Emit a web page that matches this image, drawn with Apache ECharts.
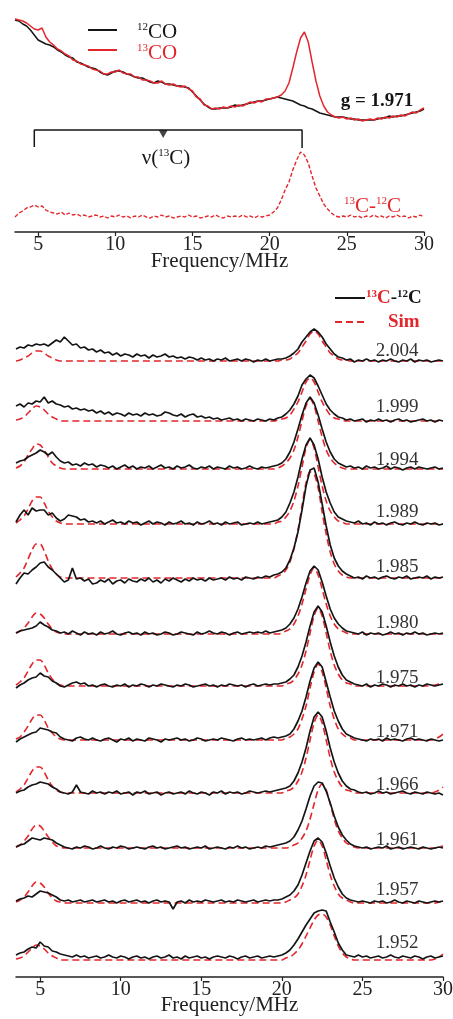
<!DOCTYPE html>
<html>
<head>
<meta charset="utf-8">
<script src="https://cdn.jsdelivr.net/npm/echarts@6/dist/echarts.min.js"></script>
<style>
html,body{margin:0;padding:0;background:#fff;}
#main{width:453px;height:1019px;}
</style>
</head>
<body>
<div id="main"></div>
<script>
// frequency grid (MHz), shared by every trace
var freq = [
  3.5,3.75,4,4.25,4.5,4.75,5,5.25,5.5,5.75,
  6,6.25,6.5,6.75,7,7.25,7.5,7.75,8,8.25,
  8.5,8.75,9,9.25,9.5,9.75,10,10.25,10.5,10.75,
  11,11.25,11.5,11.75,12,12.25,12.5,12.75,13,13.25,
  13.5,13.75,14,14.25,14.5,14.75,15,15.25,15.5,15.75,
  16,16.25,16.5,16.75,17,17.25,17.5,17.75,18,18.25,
  18.5,18.75,19,19.25,19.5,19.75,20,20.25,20.5,20.75,
  21,21.25,21.5,21.75,22,22.25,22.5,22.75,23,23.25,
  23.5,23.75,24,24.25,24.5,24.75,25,25.25,25.5,25.75,
  26,26.25,26.5,26.75,27,27.25,27.5,27.75,28,28.25,
  28.5,28.75,29,29.25,29.5,29.75,30
];
var ticks = [5, 10, 15, 20, 25, 30];

// ---- top panel (g = 1.971) ----
var co12 = [
  212,211,208,206,202,197,192,190,188,187,
  185,182,180,177,175,174,170,169,167,165,
  164,163,160,158,157,159,161,161,160,158,
  157,155,154,154,152,150,149,151,150,148,
  148,147,146,146,145,144,140,136,132,128,
  125,123,123,124,124,124,125,127,126,127,
  128,129,130,131,131,132,133,134,135,134,
  133,132,131,129,127,126,124,123,121,119,
  118,117,116,115,115,115,114,113,113,112,
  112,112,112,112,113,114,114,116,115,116,
  116,117,118,119,120,121,123
];
var co13 = [
  213,212,211,209,206,203,202,204,195,190,
  187,183,181,178,176,172,171,168,167,166,
  163,162,161,158,158,160,160,162,159,158,
  158,155,155,152,152,151,149,149,151,148,
  147,148,146,145,146,143,141,135,133,127,
  126,123,124,123,125,124,126,125,127,126,
  128,130,129,131,130,133,133,134,135,137,
  141,149,164,180,194,200,190,170,151,136,
  126,120,117,115,114,115,113,114,112,113,
  111,112,113,112,114,113,115,114,116,115,
  117,116,118,120,119,122,124
];
var diff13 = [
  15,19,21,24,25,27,25,26,22,20,
  19,18,20,17,19,17,18,16,17,15,
  16,17,15,16,14,16,15,17,15,16,
  14,16,15,17,15,14,16,15,17,15,
  16,14,15,16,15,17,15,16,14,15,
  16,15,17,15,14,16,15,16,15,17,
  15,16,14,16,15,16,17,20,24,32,
  42,50,62,72,80,77,69,56,44,36,
  28,23,19,16,15,16,15,17,15,16,
  14,16,15,17,15,16,14,16,15,17,
  15,16,14,16,15,17,15
];
var nuBracket = [4.75, 22.1];   // nu(13C) bracket ends, MHz
var nuMid = 13.1;

// ---- bottom panel: 13C-12C and Sim for each g ----
var gValues = ['2.004','1.999','1.994','1.989','1.985','1.980','1.975','1.971','1.966','1.961','1.957','1.952'];

var exp2004 = [
  12,14,13,16,15,17,16,17,15,18, 21,19,24,20,16,17,13,14,11,12,
  9,11,8,9,6,8,5,7,6,4, 7,5,6,3,6,4,5,7,4,5,
  3,4,2,4,3,1,3,1,2,0, 2,1,3,0,1,2,0,2,1,-1,
  1,0,2,0,1,2,2,3,5,8, 12,19,24,29,32,29,24,17,12,7,
  4,3,1,2,-1,1,0,2,0,1, -1,1,0,2,0,-1,1,0,2,-1,
  1,0,1,-1,0,1,0
];
var sim2004 = [
  0,1,3,5,8,10,10,8,5,3, 1,0,0,0,0,0,0,0,0,0,
  0,0,0,0,0,0,0,0,0,0, 0,0,0,0,0,0,0,0,0,0,
  0,0,0,0,0,0,0,0,0,0, 0,0,0,0,0,0,0,0,0,0,
  0,0,0,0,0,0,1,1,2,5, 8,14,20,27,30,27,20,14,8,5,
  2,1,1,0,0,0,0,0,0,0, 0,0,0,0,0,0,0,0,0,0,
  0,0,0,0,0,0,0
];
var exp1999 = [
  15,17,14,18,17,20,19,24,18,20, 17,16,14,15,12,13,11,12,10,11,
  8,10,7,9,6,8,7,5,8,6, 7,5,8,6,7,5,6,9,8,6,
  5,7,4,6,7,4,5,3,4,2, 3,1,2,3,1,2,0,2,1,0,
  2,1,0,2,1,3,4,7,11,17, 25,36,42,46,43,35,26,17,11,7,
  4,3,1,2,0,1,2,-1,1,0, 2,0,1,-1,1,2,0,1,-1,0,
  1,2,0,1,-1,1,0
];
var sim1999 = [
  1,2,4,8,12,15,14,11,7,4, 2,0,0,0,0,0,0,0,0,0,
  0,0,0,0,0,0,0,0,0,0, 0,0,0,0,0,0,0,0,0,0,
  0,0,0,0,0,0,0,0,0,0, 0,0,0,0,0,0,0,0,0,0,
  0,0,0,0,0,1,2,3,6,12, 19,29,39,43,39,29,19,12,6,3,
  2,1,0,0,0,0,0,0,0,0, 0,0,0,0,0,0,0,0,0,0,
  0,0,0,0,0,0,0
];
var exp1994 = [
  6,8,9,12,14,16,19,17,14,17, 12,8,6,7,4,5,3,6,4,5,
  2,4,3,1,3,0,2,4,1,3, 0,2,1,3,0,2,4,1,2,0,
  3,1,2,4,1,0,2,1,3,0, 2,1,0,3,1,2,0,1,3,1,
  0,2,1,2,3,4,6,10,17,27, 40,54,66,72,66,54,40,27,17,10,
  6,4,2,3,1,2,0,3,1,2, 0,1,3,0,2,1,-1,1,2,0,
  2,1,0,1,2,0,1
];
var sim1994 = [
  1,3,7,14,20,25,24,19,12,6, 3,1,0,0,0,0,0,0,0,0,
  0,0,0,0,0,0,0,0,0,0, 0,0,0,0,0,0,0,0,0,0,
  0,0,0,0,0,0,0,0,0,0, 0,0,0,0,0,0,0,0,0,0,
  0,0,0,0,0,1,3,6,11,19, 32,48,63,70,63,48,32,19,11,6,
  3,1,0,0,0,0,0,0,0,0, 0,0,0,0,0,0,0,0,0,0,
  0,0,0,0,0,0,0
];
var exp1989 = [
  2,9,14,9,16,13,14,14,9,11, 6,3,5,9,8,7,4,5,2,3,
  1,3,0,2,4,1,2,0,3,1, 2,-1,1,3,0,2,1,-1,2,0,
  1,3,0,1,-1,2,0,1,3,0, 1,-1,2,0,1,2,-1,0,1,0,
  2,0,1,2,3,4,7,12,21,32, 47,65,79,86,79,65,47,32,21,12,
  7,5,3,2,1,3,0,1,-1,2, 0,1,-1,1,2,0,-1,1,0,2,
  0,-1,1,0,1,-1,0
];
var sim1989 = [
  1,4,8,15,23,27,27,21,13,7, 3,1,0,0,0,0,0,0,0,0,
  0,0,0,0,0,0,0,0,0,0, 0,0,0,0,0,0,0,0,0,0,
  0,0,0,0,0,0,0,0,0,0, 0,0,0,0,0,0,0,0,0,0,
  0,0,0,0,0,2,3,7,13,23, 38,57,76,84,76,57,38,23,13,7,
  3,2,0,0,0,0,0,0,0,0, 0,0,0,0,0,0,0,0,0,0,
  0,0,0,0,0,0,0
];
var exp1985 = [
  -6,0,5,4,8,11,15,16,11,8, 4,0,-4,-2,10,-1,0,-3,-1,-6,
  -5,-2,-4,-1,-6,-3,-2,-5,-1,-3, -4,-1,-3,0,-4,-2,-5,-1,-3,0,
  -2,-4,-1,-3,0,-2,-1,-3,0,-2, -1,0,-2,1,-1,0,-2,1,0,-1,
  1,0,2,1,3,4,6,10,18,30, 46,68,92,108,110,96,74,52,33,20,
  12,7,4,2,0,1,-1,2,0,1, -1,1,2,0,-1,1,0,2,-1,0,
  1,0,2,-1,1,0,1
];
var sim1985 = [
  1,5,10,19,28,34,34,27,17,9, 4,1,0,0,0,0,0,0,0,0,
  0,0,0,0,0,0,0,0,0,0, 0,0,0,0,0,0,0,0,0,0,
  0,0,0,0,0,0,0,0,0,0, 0,0,0,0,0,0,0,0,0,0,
  0,0,0,0,0,2,4,8,16,29, 48,72,95,106,104,90,66,44,26,14,
  7,3,1,0,0,0,0,0,0,0, 0,0,0,0,0,0,0,0,0,0,
  0,0,0,0,0,0,0
];
var exp1980 = [
  1,3,4,5,6,8,12,9,7,4, 3,1,2,0,3,1,-1,2,0,1,
  -1,2,0,1,3,0,-1,1,2,0, 1,-1,2,0,1,-1,0,2,1,-1,
  0,2,1,0,-1,2,0,1,3,1, 0,2,1,-1,1,2,0,1,2,1,
  2,1,3,1,2,3,4,6,10,16, 25,37,51,63,68,64,52,38,25,16,
  10,6,3,2,1,0,2,-1,1,0, 1,-1,0,2,0,1,-1,1,0,2,
  0,1,-1,0,1,0,1
];
var sim1980 = [
  1,3,6,11,17,21,20,16,10,5, 2,1,0,0,0,0,0,0,0,0,
  0,0,0,0,0,0,0,0,0,0, 0,0,0,0,0,0,0,0,0,0,
  0,0,0,0,0,0,0,0,0,0, 0,0,0,0,0,0,0,0,0,0,
  0,0,0,0,0,0,1,3,5,10, 18,30,45,59,66,59,45,30,18,10,
  5,3,1,0,0,0,0,0,0,0, 0,0,0,0,0,0,0,0,0,0,
  0,0,0,0,0,0,0
];
var exp1975 = [
  -2,1,3,6,8,9,13,10,9,5, 3,0,-1,1,3,4,2,3,0,1,
  -1,1,2,0,-1,1,0,2,-1,1, 0,2,1,-1,1,0,2,1,0,-1,
  1,0,2,1,-1,0,1,2,0,1, -1,1,0,2,1,0,1,-1,1,2,
  0,1,2,1,2,2,3,4,7,11, 19,30,44,60,74,80,74,60,44,30,
  19,11,6,4,2,1,0,2,-1,1, 0,2,1,-1,1,0,2,0,1,-1,
  1,0,2,1,0,1,2
];
var sim1975 = [
  1,4,8,15,22,26,26,21,13,7, 3,1,0,0,0,0,0,0,0,0,
  0,0,0,0,0,0,0,0,0,0, 0,0,0,0,0,0,0,0,0,0,
  0,0,0,0,0,0,0,0,0,0, 0,0,0,0,0,0,0,0,0,0,
  0,0,0,0,0,0,0,2,3,6, 12,21,35,53,70,78,70,53,35,21,
  12,6,3,2,0,0,0,0,0,0, 0,0,0,0,0,0,0,0,0,0,
  0,0,0,0,1,2,4
];
var exp1971 = [
  -2,1,3,5,7,8,12,11,10,8, 7,3,1,0,-1,2,3,1,0,2,
  0,-1,1,2,0,-2,1,0,2,-1, 1,0,-1,2,1,0,-2,1,0,1,
  2,0,1,-1,0,2,1,-1,0,1, 0,2,1,0,-1,1,2,0,1,0,
  1,2,0,2,3,2,3,4,6,11, 19,29,43,59,72,78,73,58,43,29,
  19,11,6,4,2,1,0,-1,1,0, 1,-1,2,0,1,0,-1,1,2,0,
  1,0,-1,1,0,-1,0
];
var sim1971 = [
  1,3,8,14,21,25,25,20,12,7, 3,1,0,0,0,0,0,0,0,0,
  0,0,0,0,0,0,0,0,0,0, 0,0,0,0,0,0,0,0,0,0,
  0,0,0,0,0,0,0,0,0,0, 0,0,0,0,0,0,0,0,0,0,
  0,0,0,0,0,0,0,2,3,6, 11,21,34,52,68,76,68,52,34,21,
  11,6,3,2,0,0,0,0,0,0, 0,0,0,0,0,0,0,0,0,0,
  0,0,0,0,1,3,6
];
var exp1966 = [
  0,2,3,6,8,9,11,10,9,6, 4,1,0,-1,1,8,1,0,-1,2,
  0,1,-1,1,0,2,-1,0,1,-2, 1,0,2,-1,0,1,-2,0,1,-1,
  0,1,-1,2,0,-1,1,0,-2,1, 0,2,-1,1,0,1,-1,0,2,1,
  0,1,2,1,2,3,4,5,7,12, 20,31,45,62,76,81,76,62,45,31,
  20,12,7,4,3,1,0,1,-1,0, 2,0,1,-1,0,1,2,0,-1,1,
  0,-1,1,0,-1,0,-2
];
var sim1966 = [
  1,4,8,15,22,26,26,21,13,7, 3,1,0,0,0,0,0,0,0,0,
  0,0,0,0,0,0,0,0,0,0, 0,0,0,0,0,0,0,0,0,0,
  0,0,0,0,0,0,0,0,0,0, 0,0,0,0,0,0,0,0,0,0,
  0,0,0,0,0,0,0,2,3,6, 12,21,35,53,70,78,70,53,35,21,
  12,6,3,2,0,0,0,0,0,0, 0,0,0,0,0,0,0,0,0,0,
  0,0,0,0,1,3,6
];
var exp1961 = [
  1,3,4,7,10,9,8,10,9,8, 5,3,1,0,-1,1,0,2,1,-1,
  0,2,0,-1,1,0,2,1,-1,0, 1,0,-1,1,2,0,1,-1,0,1,
  2,0,1,-1,0,1,0,2,-1,0, 1,0,-1,1,0,2,0,1,-1,0,
  1,0,2,1,2,3,4,5,7,11, 18,27,39,52,62,66,65,57,45,32,
  21,13,8,4,2,1,0,1,-1,0, 1,0,2,-1,0,1,-1,0,1,0,
  -1,1,0,-1,0,1,0
];
var sim1961 = [
  1,3,7,12,19,23,22,17,11,6, 2,1,0,0,0,0,0,0,0,0,
  0,0,0,0,0,0,0,0,0,0, 0,0,0,0,0,0,0,0,0,0,
  0,0,0,0,0,0,0,0,0,0, 0,0,0,0,0,0,0,0,0,0,
  0,0,0,0,0,0,0,0,1,3, 5,10,17,29,44,58,64,58,44,29,
  17,10,5,3,1,0,0,0,0,0, 0,0,0,0,0,0,0,0,0,0,
  0,0,0,0,0,1,2
];
var exp1957 = [
  2,4,5,7,6,9,12,11,10,8, 6,3,2,3,1,2,3,1,2,3,
  1,2,3,1,2,0,2,3,1,2, 3,1,2,0,2,3,1,2,1,-6,
  1,2,0,3,1,2,1,3,2,1, 2,3,1,2,1,3,2,1,2,3,
  1,2,3,2,3,3,4,6,8,12, 18,28,40,52,62,65,61,50,37,25,
  16,9,5,3,2,1,2,1,0,2, 1,2,0,1,3,1,0,2,1,0,
  2,1,0,1,2,1,2
];
var sim1957 = [
  1,3,6,11,17,21,20,16,10,5, 2,1,0,0,0,0,0,0,0,0,
  0,0,0,0,0,0,0,0,0,0, 0,0,0,0,0,0,0,0,0,0,
  0,0,0,0,0,0,0,0,0,0, 0,0,0,0,0,0,0,0,0,0,
  0,0,0,0,0,0,0,1,3,5, 9,17,28,43,57,63,57,43,28,17,
  9,5,3,1,0,0,0,0,0,0, 0,0,0,0,0,0,0,0,0,0,
  0,0,0,0,0,1,2
];
var exp1952 = [
  5,7,8,11,13,12,18,14,13,9, 8,6,5,4,3,5,3,4,2,3,
  4,2,3,5,3,2,4,3,1,3, 4,2,3,1,3,4,2,3,5,2,
  3,1,4,2,3,4,2,3,1,3, 4,3,2,4,3,1,3,4,2,3,
  4,2,3,4,3,4,5,7,10,15, 21,28,35,41,47,49,50,49,38,28,
  17,10,5,4,3,5,3,4,2,3, 4,2,3,5,3,2,4,3,2,4,
  3,1,3,4,2,3,4
];
var sim1952 = [
  1,2,4,8,12,15,14,11,7,4, 2,0,0,0,0,0,0,0,0,0,
  0,0,0,0,0,0,0,0,0,0, 0,0,0,0,0,0,0,0,0,0,
  0,0,0,0,0,0,0,0,0,0, 0,0,0,0,0,0,0,0,0,0,
  0,0,0,0,0,0,0,2,3,6, 10,16,24,32,40,45,46,43,35,24,
  14,7,3,1,0,0,0,0,0,0, 0,0,0,0,0,0,0,0,0,0,
  0,0,0,0,1,3,6
];

var expRows = [exp2004, exp1999, exp1994, exp1989, exp1985, exp1980, exp1975, exp1971, exp1966, exp1961, exp1957, exp1952];
var simRows = [sim2004, sim1999, sim1994, sim1989, sim1985, sim1980, sim1975, sim1971, sim1966, sim1961, sim1957, sim1952];

// stacking (vertical offsets of each trace) and g label lift
var rowOffset = [616, 556, 508, 453, 399, 343, 291, 237, 184, 129, 74, 17];
var gLift = [10, 14, 9, 12, 11, 11, 8, 8, 8, 8, 13, 17];
var gLabelX = 27.15;

var serif = '"Liberation Serif", "Times New Roman", serif';
var RED = '#e3262c';
var BLACK = '#151515';

function pairs(vals, off) {
  var out = [];
  for (var i = 0; i < freq.length; i++) out.push([freq[i], vals[i] + (off || 0)]);
  return out;
}

function freqAxis(idx, gap) {
  return {
    gridIndex: idx, type: 'value', min: 3.5, max: 30,
    axisLine: {lineStyle: {color: '#222', width: 1.5}},
    axisTick: {customValues: ticks, length: 4, lineStyle: {color: '#222', width: 1.2}},
    axisLabel: {customValues: ticks, color: '#222', fontFamily: serif, fontSize: 20, margin: 3},
    splitLine: {show: false},
    name: 'Frequency/MHz', nameLocation: 'middle', nameGap: gap, nameMoveOverlap: false,
    nameTextStyle: {color: '#222', fontFamily: serif, fontSize: 21}
  };
}

var series = [];
// top panel
series.push({type: 'line', xAxisIndex: 0, yAxisIndex: 0, data: pairs(co12), symbol: 'none',
  lineStyle: {color: BLACK, width: 1.5}});
series.push({type: 'line', xAxisIndex: 0, yAxisIndex: 0, data: pairs(co13), symbol: 'none',
  lineStyle: {color: RED, width: 1.5}});
series.push({type: 'line', xAxisIndex: 0, yAxisIndex: 0, data: pairs(diff13), symbol: 'none',
  lineStyle: {color: RED, width: 1.4, type: [4, 2]}});
// nu(13C) bracket
series.push({type: 'line', xAxisIndex: 0, yAxisIndex: 0, symbol: 'none',
  data: [[nuBracket[0], 85], [nuBracket[0], 102], [nuBracket[1], 102], [nuBracket[1], 84]],
  lineStyle: {color: BLACK, width: 1.5}});
series.push({type: 'scatter', xAxisIndex: 0, yAxisIndex: 0, data: [[nuMid, 98]],
  symbol: 'triangle', symbolRotate: 180, symbolSize: [9, 8], itemStyle: {color: BLACK}});

// bottom panel
for (var r = 0; r < gValues.length; r++) {
  series.push({type: 'line', xAxisIndex: 1, yAxisIndex: 1, data: pairs(simRows[r], rowOffset[r]),
    symbol: 'none', smooth: 0.3, lineStyle: {color: RED, width: 1.6, type: [7, 4]}});
  series.push({type: 'line', xAxisIndex: 1, yAxisIndex: 1, data: pairs(expRows[r], rowOffset[r]),
    symbol: 'none', lineStyle: {color: BLACK, width: 1.7}});
}
var labelData = [];
for (var k = 0; k < gValues.length; k++) {
  labelData.push({name: gValues[k], value: [gLabelX, rowOffset[k] + gLift[k]]});
}
series.push({type: 'scatter', xAxisIndex: 1, yAxisIndex: 1, data: labelData, symbolSize: 1,
  itemStyle: {color: '#fff', opacity: 1}, z: 5,
  label: {show: true, position: 'inside', formatter: '{b}', color: '#333', opacity: 1,
    textBorderWidth: 0, fontFamily: serif, fontSize: 19}});

function supText(x, y, text, rich, align) {
  return {type: 'text', x: x, y: y, silent: true,
    style: {text: text, rich: rich, align: align || 'left', verticalAlign: 'middle',
      textAlign: align || 'left', textVerticalAlign: 'middle'}};
}
function rs(size, color, bold, va) {
  return {fontSize: size, fontFamily: serif, fill: color, color: color,
    fontWeight: bold ? 'bold' : 'normal', verticalAlign: va || 'bottom'};
}

var graphics = [
  // top legend
  {type: 'line', shape: {x1: 88, y1: 30, x2: 117, y2: 30}, style: {stroke: BLACK, lineWidth: 2}},
  {type: 'line', shape: {x1: 88, y1: 50, x2: 117, y2: 50}, style: {stroke: RED, lineWidth: 2}},
  supText(137, 32, '{s|12}{b|CO}', {s: rs(11, BLACK, false, 'top'), b: rs(21, BLACK)}),
  supText(137, 53, '{s|13}{b|CO}', {s: rs(11, RED, false, 'top'), b: rs(21, RED)}),
  supText(377, 101, '{b|g = 1.971}', {b: rs(19, BLACK, true)}, 'center'),
  supText(166, 158, '{b|\u03bd(}{s|13}{b|C)}', {s: rs(11, BLACK, false, 'top'), b: rs(21, BLACK)}, 'center'),
  supText(344, 206, '{s|13}{b|C-}{s|12}{b|C}', {s: rs(11, RED, false, 'top'), b: rs(21, RED)}),
  // bottom legend
  {type: 'line', shape: {x1: 335, y1: 298, x2: 365, y2: 298}, style: {stroke: BLACK, lineWidth: 2}},
  {type: 'line', shape: {x1: 335, y1: 322, x2: 368, y2: 322}, style: {stroke: RED, lineWidth: 2, lineDash: [7, 4]}},
  supText(366, 298, '{s|13}{b|C}{k|-}{t|12}{k|C}', {s: rs(11, RED, true, 'top'), b: rs(19, RED, true),
    t: rs(11, BLACK, true, 'top'), k: rs(19, BLACK, true)}),
  supText(388, 322, '{b|Sim}', {b: rs(19, RED, true)})
];

var chart = echarts.init(document.getElementById('main'));
chart.setOption({
  animation: false,
  backgroundColor: '#fff',
  grid: [
    {left: 15, right: 29, top: 10, height: 222, outerBoundsMode: 'none'},
    {left: 16, right: 10, top: 290, height: 687, outerBoundsMode: 'none'}
  ],
  xAxis: [freqAxis(0, 19), freqAxis(1, 18)],
  yAxis: [
    {gridIndex: 0, type: 'value', min: 0, max: 222, show: false},
    {gridIndex: 1, type: 'value', min: 0, max: 687, show: false}
  ],
  series: series,
  graphic: graphics
});
</script>
</body>
</html>
